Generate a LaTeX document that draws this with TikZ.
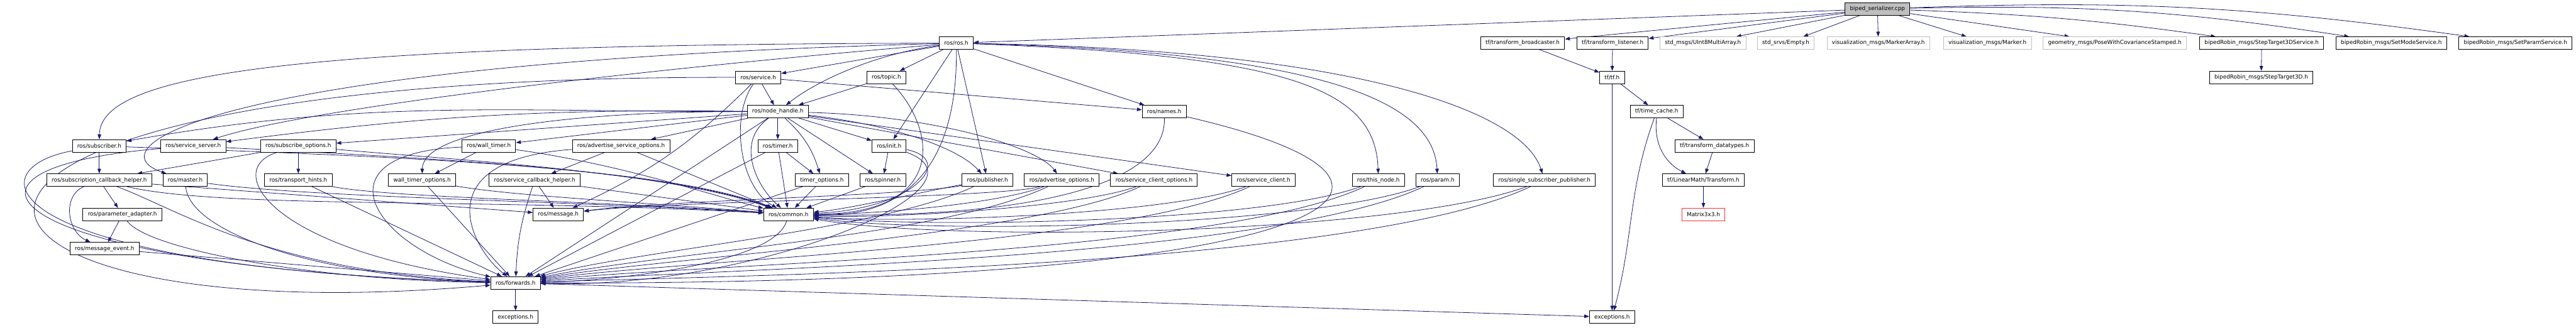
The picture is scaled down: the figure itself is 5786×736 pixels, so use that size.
\documentclass[tikz,border=0pt]{standalone}
\usepackage{fontspec}
\setmainfont{DejaVu Sans}
\usetikzlibrary{arrows.meta,backgrounds}
\definecolor{linkc}{HTML}{191970}
\definecolor{greyb}{HTML}{BFBFBF}
\definecolor{redb}{HTML}{FF3030}
\begin{document}
\begin{tikzpicture}[x=0.25pt,y=0.25pt,
  box/.style={draw=black, line width=0.35pt, fill=white, minimum height=7pt, inner xsep=2.75pt, inner ysep=0pt, font=\fontsize{3.125}{3.6}\selectfont},
  gbox/.style={box, draw=greyb},
  rbox/.style={box, draw=redb},
  root/.style={box, fill=greyb},
  link/.style={draw=linkc, line width=0.28pt, -{Triangle[length=2.75pt,width=2pt]}}]
\useasboundingbox (0,0) rectangle (5786,-736);
% row 0
\node[root] (cpp) at (4217,-20) {biped\_serializer.cpp};
% row 1
\node[box] (ros) at (2148,-97) {ros/ros.h};
\node[box] (tfbc) at (3420,-97) {tf/transform\_broadcaster.h};
\node[box] (tfl) at (3622,-97) {tf/transform\_listener.h};
\node[gbox] (u8) at (3825,-97) {std\_msgs/UInt8MultiArray.h};
\node[gbox] (emp) at (4011,-97) {std\_srvs/Empty.h};
\node[gbox] (marr) at (4219,-97) {visualization\_msgs/MarkerArray.h};
\node[gbox] (mrk) at (4464,-97) {visualization\_msgs/Marker.h};
\node[gbox] (pose) at (4750,-97) {geometry\_msgs/PoseWithCovarianceStamped.h};
\node[box] (st3ds) at (5080,-97) {bipedRobin\_msgs/StepTarget3DService.h};
\node[box] (setmode) at (5371,-97) {bipedRobin\_msgs/SetModeService.h};
\node[box] (setparam) at (5650,-97) {bipedRobin\_msgs/SetParamService.h};
% row 2
\node[box] (service) at (1703,-174) {ros/service.h};
\node[box] (topic) at (1991,-174) {ros/topic.h};
\node[box] (tf) at (3621,-174) {tf/tf.h};
\node[box] (st3d) at (5079,-174) {bipedRobin\_msgs/StepTarget3D.h};
% row 3
\node[box] (nh) at (1747,-251) {ros/node\_handle.h};
\node[box] (names) at (2615,-251) {ros/names.h};
\node[box] (tc) at (3721,-251) {tf/time\_cache.h};
% row 4
\node[box] (sub) at (223,-328) {ros/subscriber.h};
\node[box] (ss) at (434,-328) {ros/service\_server.h};
\node[box] (so) at (670,-328) {ros/subscribe\_options.h};
\node[box] (wt) at (1098,-328) {ros/wall\_timer.h};
\node[box] (aso) at (1395,-328) {ros/advertise\_service\_options.h};
\node[box] (timer) at (1747,-328) {ros/timer.h};
\node[box] (init) at (1997,-328) {ros/init.h};
\node[box] (dt) at (3851,-328) {tf/transform\_datatypes.h};
% row 5
\node[box] (sch) at (223,-405) {ros/subscription\_callback\_helper.h};
\node[box] (master) at (416,-405) {ros/master.h};
\node[box] (th) at (670,-405) {ros/transport\_hints.h};
\node[box] (wto) at (948,-405) {wall\_timer\_options.h};
\node[box] (sch2) at (1201,-405) {ros/service\_callback\_helper.h};
\node[box] (tmo) at (1846,-405) {timer\_options.h};
\node[box] (spin) at (1983,-405) {ros/spinner.h};
\node[box] (pub) at (2218,-405) {ros/publisher.h};
\node[box] (ao) at (2385,-405) {ros/advertise\_options.h};
\node[box] (sco) at (2592,-405) {ros/service\_client\_options.h};
\node[box] (sc) at (2838,-405) {ros/service\_client.h};
\node[box] (tn) at (3096,-405) {ros/this\_node.h};
\node[box] (param) at (3229,-405) {ros/param.h};
\node[box] (ssp) at (3469,-405) {ros/single\_subscriber\_publisher.h};
\node[box] (trans) at (3826,-405) {tf/LinearMath/Transform.h};
% row 6
\node[box] (pa) at (275,-482) {ros/parameter\_adapter.h};
\node[box] (msg) at (1254,-482) {ros/message.h};
\node[box] (common) at (1771,-482) {ros/common.h};
\node[rbox] (mat) at (3826,-482) {Matrix3x3.h};
% rows 7-9
\node[box] (me) at (235,-559) {ros/message\_event.h};
\node[box] (fwd) at (1158,-636) {ros/forwards.h};
\node[box] (ex1) at (1158,-713) {exceptions.h};
\node[box] (ex2) at (3621,-713) {exceptions.h};

\begin{pgfonlayer}{background}
\fill[white] (0,0) rectangle (5786,-736);
% top file
\draw[link] (cpp) -- (ros);
\draw[link] (cpp) -- (tfbc);
\draw[link] (cpp) -- (tfl);
\draw[link] (cpp) -- (u8);
\draw[link] (cpp) -- (emp);
\draw[link] (cpp) -- (marr);
\draw[link] (cpp) -- (mrk);
\draw[link] (cpp) -- (pose);
\draw[link] (cpp) to[bend left=3] (st3ds);
\draw[link] (cpp) to[bend left=5] (setmode);
\draw[link] (cpp) to[bend left=5] (setparam);
\draw[link] (st3ds) -- (st3d);
% tf
\draw[link] (tfbc) -- (tf);
\draw[link] (tfl) -- (tf);
\draw[link] (tf) -- (tc);
\draw[link] (tf) -- (ex2);
\draw[link] (tc) to[bend right=35] (trans);
\draw[link] (tc) to[out=-110,in=75] (ex2);
\draw[link] (tc) -- (dt);
\draw[link] (dt) -- (trans);
\draw[link] (trans) -- (mat);
\draw[link] (fwd) -- (ex1);
\draw[link] (fwd) -- (ex2);
% ros/ros.h
\draw[link] (ros) .. controls (1960,-122) and (1830,-185) .. (nh);
\draw[link] (ros) -- (topic);
\draw[link] (ros) -- (service);
\draw[link] (ros) -- (init);
\draw[link] (ros) -- (pub);
\draw[link] (ros) -- (names);
\draw[link] (ros) .. controls (2900,-125) and (3090,-200) .. (tn);
\draw[link] (ros) .. controls (2980,-118) and (3220,-230) .. (param);
\draw[link] (ros) .. controls (3050,-112) and (3420,-250) .. (ssp);
\draw[link] (ros) .. controls (500,-140) and (200,-330) .. (master);
\draw[link] (ros) .. controls (700,-100) and (225,-160) .. (sub);
\draw[link] (ros) .. controls (1500,-150) and (700,-240) .. (ss);
\draw[link] (ros) .. controls (2150,-300) and (2090,-490) .. (common);
% service / topic / names
\draw[link] (service) -- (nh);
\draw[link] (service) -- (names);
\draw[link] (service) .. controls (1640,-260) and (1660,-420) .. (common);
\draw[link] (service) to[bend left=10] (msg);
\draw[link] (service) .. controls (-450,-170) and (-250,-760) .. (fwd);
\draw[link] (topic) -- (nh);
\draw[link] (topic) .. controls (2110,-300) and (2120,-480) .. (common);
\draw[link] (names) .. controls (3350,-420) and (3000,-640) .. (fwd);
\draw[link] (names) .. controls (2620,-420) and (2300,-490) .. (common);
% init / timer / spinner
\draw[link] (init) -- (spin);
\draw[link] (init) .. controls (2150,-360) and (2050,-470) .. (common);
\draw[link] (init) .. controls (2250,-420) and (1700,-650) .. (fwd);
\draw[link] (timer) -- (tmo);
\draw[link] (timer) -- (common);
\draw[link] (timer) -- (fwd);
\draw[link] (tmo) -- (common);
\draw[link] (tmo) -- (fwd);
\draw[link] (spin) -- (common);
% node_handle
\draw[link] (nh) to[out=180,in=10] (sub);
\draw[link] (nh) to[bend right=4] (ss);
\draw[link] (nh) -- (so);
\draw[link] (nh) -- (wt);
\draw[link] (nh) -- (aso);
\draw[link] (nh) .. controls (1300,-250) and (950,-290) .. (wto);
\draw[link] (nh) -- (timer);
\draw[link] (nh) to[bend left=15] (tmo);
\draw[link] (nh) -- (spin);
\draw[link] (nh) -- (init);
\draw[link] (nh) .. controls (2000,-280) and (2150,-330) .. (pub);
\draw[link] (nh) .. controls (2100,-260) and (2330,-330) .. (ao);
\draw[link] (nh) -- (sco);
\draw[link] (nh) -- (sc);
\draw[link] (nh) -- (fwd);
\draw[link] (nh) .. controls (1650,-320) and (1700,-420) .. (common);
% left group
\draw[link] (sub) -- (sch);
\draw[link] (sub) .. controls (-60,-380) and (-20,-600) .. (fwd);
\draw[link] (sub) .. controls (900,-352) and (1500,-375) .. (common);
\draw[link] (ss) .. controls (-200,-380) and (0,-600) .. (fwd);
\draw[link] (ss) .. controls (950,-355) and (1500,-380) .. (common);
\draw[link] (so) -- (sch);
\draw[link] (so) -- (th);
\draw[link] (so) .. controls (500,-380) and (600,-560) .. (fwd);
\draw[link] (so) .. controls (1000,-358) and (1500,-385) .. (common);
\draw[link] (th) .. controls (880,-445) and (1350,-452) .. (common);
\draw[link] (th) -- (fwd);
\draw[link] (sch) -- (pa);
\draw[link] (sch) .. controls (140,-440) and (150,-520) .. (me);
\draw[link] (sch) .. controls (400,-470) and (600,-610) .. (fwd);
\draw[link] (sch) .. controls (500,-470) and (1100,-445) .. (common);
\draw[link] (sch) -- (msg);
\draw[link] (master) .. controls (425,-520) and (700,-620) .. (fwd);
\draw[link] (master) .. controls (700,-445) and (1300,-452) .. (common);
\draw[link] (pa) -- (me);
\draw[link] (pa) .. controls (330,-560) and (700,-630) .. (fwd);
\draw[link] (me) -- (fwd);
\draw[link] (wt) -- (wto);
\draw[link] (wt) .. controls (1400,-370) and (1600,-440) .. (common);
\draw[link] (wt) .. controls (700,-345) and (840,-560) .. (fwd);
\draw[link] (wto) .. controls (1150,-440) and (1400,-452) .. (common);
\draw[link] (wto) -- (fwd);
\draw[link] (aso) -- (sch2);
\draw[link] (aso) .. controls (950,-360) and (1060,-560) .. (fwd);
\draw[link] (aso) -- (common);
\draw[link] (sch2) to[bend right=8] (fwd);
\draw[link] (sch2) -- (msg);
\draw[link] (sch2) -- (common);
\draw[link] (common) .. controls (1740,-590) and (1400,-630) .. (fwd);
% right group
\draw[link] (pub) to[out=205,in=15,looseness=0.6] (fwd);
\draw[link] (pub) to[out=190,in=5,looseness=0.6] (common);
\draw[link] (pub) .. controls (2050,-440) and (1500,-450) .. (msg);
\draw[link] (ao) to[out=205,in=12,looseness=0.6] (fwd);
\draw[link] (ao) to[out=200,in=0,looseness=0.6] (common);
\draw[link] (ao) .. controls (2250,-445) and (1500,-452) .. (msg);
\draw[link] (sco) to[out=205,in=10,looseness=0.5] (fwd);
\draw[link] (sco) to[out=200,in=-3,looseness=0.5] (common);
\draw[link] (sc) to[out=205,in=8,looseness=0.5] (fwd);
\draw[link] (sc) to[out=200,in=-5,looseness=0.5] (common);
\draw[link] (tn) to[out=205,in=6,looseness=0.5] (fwd);
\draw[link] (tn) to[out=200,in=-6,looseness=0.5] (common);
\draw[link] (param) to[out=205,in=4,looseness=0.5] (fwd);
\draw[link] (param) to[out=200,in=-8,looseness=0.5] (common);
\draw[link] (ssp) to[out=205,in=2,looseness=0.5] (fwd);
\draw[link] (ssp) to[out=200,in=-10,looseness=0.5] (common);
\end{pgfonlayer}
\end{tikzpicture}
\end{document}
